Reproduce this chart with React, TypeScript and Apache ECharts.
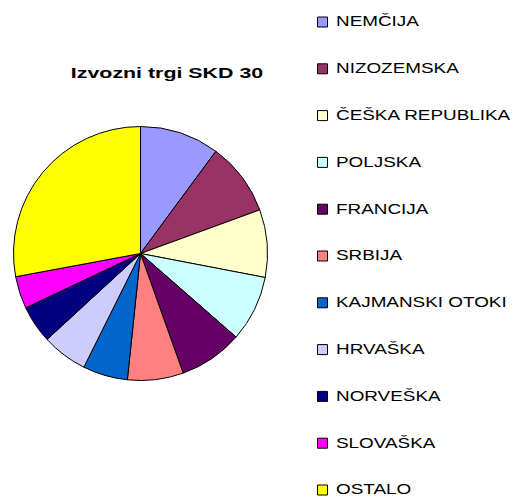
import React, { useEffect, useRef } from "react";
import * as echarts from "echarts";

const titleText = "Izvozni trgi SKD 30";
const categories = [
  "NEMČIJA",
  "NIZOZEMSKA",
  "ČEŠKA REPUBLIKA",
  "POLJSKA",
  "FRANCIJA",
  "SRBIJA",
  "KAJMANSKI OTOKI",
  "HRVAŠKA",
  "NORVEŠKA",
  "SLOVAŠKA",
  "OSTALO",
];
const values = [10.1, 9.3, 8.6, 8.4, 8.1, 7.1, 5.7, 5.8, 4.8, 4.1, 27.9];
const colors = [
  "#9999FF",
  "#993366",
  "#FFFFCC",
  "#CCFFFF",
  "#660066",
  "#FF8080",
  "#0066CC",
  "#CCCCFF",
  "#000080",
  "#FF00FF",
  "#FFFF00",
];

export default function App() {
  const ref = useRef<HTMLDivElement>(null);
  useEffect(() => {
    document.body.style.margin = "0";
    if (!ref.current) return;
    const chart = echarts.init(ref.current, undefined, { renderer: "svg" });
    const font = "'Liberation Sans', Arial, sans-serif";
    const legendGraphics: any[] = [];
    categories.forEach((name, i) => {
      const cy = 21.5 + i * 46.8;
      legendGraphics.push({
        type: "rect",
        shape: { x: 317.5, y: cy - 4.5, width: 10, height: 10 },
        style: { fill: colors[i], stroke: "#000", lineWidth: 1 },
      });
      legendGraphics.push({
        type: "text",
        x: 336,
        y: cy,
        scaleX: 1.26,
        style: {
          text: name,
          fontSize: 15,
          lineHeight: 14,
          fontFamily: font,
          fill: "#000",
          textAlign: "left",
          textVerticalAlign: "middle",
        },
      });
    });
    chart.setOption({
      animation: false,
      backgroundColor: "#fff",
      graphic: [
        {
          type: "text",
          x: 167,
          y: 73,
          scaleX: 1.38,
          style: {
            text: titleText,
            fontSize: 15.5,
            fontWeight: "bold",
            fontFamily: font,
            fill: "#000",
            textAlign: "center",
            textVerticalAlign: "middle",
          },
        },
        ...legendGraphics,
      ],
      series: [
        {
          type: "pie",
          center: [140.5, 253.5],
          radius: 127,
          startAngle: 90,
          clockwise: true,
          label: { show: false },
          labelLine: { show: false },
          emphasis: { disabled: true },
          itemStyle: { borderColor: "#000", borderWidth: 1 },
          data: categories.map((name, i) => ({
            name,
            value: values[i],
            itemStyle: { color: colors[i] },
          })),
        },
      ],
    });
    return () => chart.dispose();
  }, []);
  return <div ref={ref} style={{ width: 516, height: 498 }} />;
}
